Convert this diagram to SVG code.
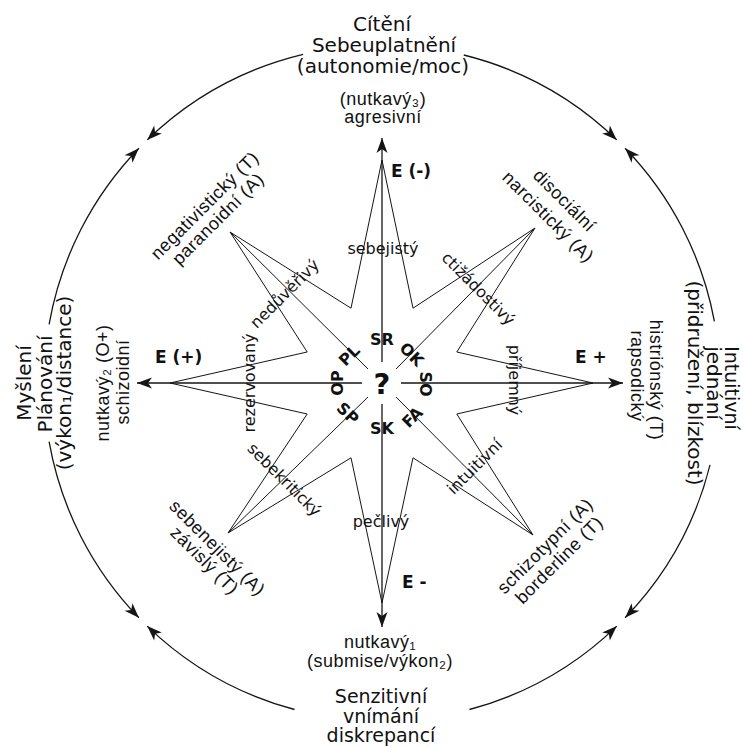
<svg xmlns="http://www.w3.org/2000/svg" width="743" height="747" viewBox="0 0 743 747">
<style>
  text { font-family: "DejaVu Sans", "Liberation Sans", sans-serif; fill: #111111; }
  .title { font-size: 20px; text-anchor: middle; }
  .lt { font-family: "Liberation Sans", "DejaVu Sans", sans-serif; font-size: 18px; letter-spacing: 0.5px; text-anchor: middle; }
  .arm { font-size: 16px; text-anchor: middle; }
  .c { font-size: 16px; font-weight: bold; text-anchor: middle; }
  .q { font-size: 29px; font-weight: bold; text-anchor: middle; }
  .e { font-size: 17px; font-weight: bold; }
  .ln { stroke: #151515; fill: none; stroke-width: 1.3; }
  .st { stroke: #151515; fill: none; stroke-width: 1; stroke-linejoin: miter; }
</style>
<defs>
  <marker id="ah" markerUnits="userSpaceOnUse" orient="auto" refX="0" refY="0" markerWidth="16" markerHeight="12" overflow="visible">
    <path d="M0,0 L-15,-5.5 L-11,0 L-15,5.5 Z" fill="#151515"/>
  </marker>
</defs>
<rect width="743" height="747" fill="#ffffff"/>

<g id="connectors">
  <g id="circle-arcs">
    <path class="ln" d="M303.1,54.3 A338,338 0 0 0 147.2,139.9" marker-end="url(#ah)"/>
    <path class="ln" d="M49.1,324.3 A338,338 0 0 1 138.9,148.2" marker-end="url(#ah)"/>
    <path class="ln" d="M49.1,441.7 A338,338 0 0 0 138.9,617.8" marker-end="url(#ah)"/>
    <path class="ln" d="M294.5,709.5 A338,338 0 0 1 147.2,626.1" marker-end="url(#ah)"/>
    <path class="ln" d="M469.5,709.5 A338,338 0 0 0 616.8,626.1" marker-end="url(#ah)"/>
    <path class="ln" d="M710.0,464.8 A338,338 0 0 1 625.1,617.8" marker-end="url(#ah)"/>
    <path class="ln" d="M714.4,321.4 A338,338 0 0 0 625.1,148.2" marker-end="url(#ah)"/>
    <path class="ln" d="M463.8,55.0 A338,338 0 0 1 616.8,139.9" marker-end="url(#ah)"/>
  </g>
  <g id="axes">
    <line class="ln" x1="382" y1="362" x2="382" y2="138" marker-end="url(#ah)"/>
    <line class="ln" x1="382" y1="404" x2="382" y2="627" marker-end="url(#ah)"/>
    <line class="ln" x1="362" y1="383" x2="137" y2="383" marker-end="url(#ah)"/>
    <line class="ln" x1="401" y1="383" x2="623" y2="383" marker-end="url(#ah)"/>
    <line class="st" x1="368" y1="369" x2="230" y2="232"/>
    <line class="st" x1="396" y1="369" x2="535" y2="228"/>
    <line class="st" x1="368" y1="397" x2="228" y2="533"/>
    <line class="st" x1="396" y1="397" x2="533" y2="535"/>
  </g>
</g>

<g id="star">
  <polygon class="st" points="593,383 456.8,414 533,535 413,457.8 382,603 351,457.8 228,533 307.2,414 170,383 307.2,352 230,232 351,308.2 382,160 413,308.2 535,228 456.8,352"/>
</g>

<g id="title-top">
  <text class="title" x="382" y="31">Cítění</text>
  <text class="title" x="384" y="52">Sebeuplatnění</text>
  <text class="title" x="383" y="73">(autonomie/moc)</text>
</g>
<g id="title-bottom">
  <text class="title" x="381" y="703" style="font-size:19px">Senzitivní</text>
  <text class="title" x="381" y="723" style="font-size:19px">vnímání</text>
  <text class="title" x="381" y="742" style="font-size:19px">diskrepancí</text>
</g>
<g id="title-left">
  <text class="title" transform="translate(31,383) rotate(-90)">Myšlení</text>
  <text class="title" transform="translate(52,384) rotate(-90)">Plánování</text>
  <text class="title" transform="translate(71,383) rotate(-90)">(výkon₁/distance)</text>
</g>
<g id="title-right">
  <text class="title" transform="translate(725,388) rotate(90)" style="font-size:19px">Intuitivní</text>
  <text class="title" transform="translate(707,383) rotate(90)">jednání</text>
  <text class="title" transform="translate(688,383) rotate(90)">(přidružení, blízkost)</text>
</g>

<g id="pole-top">
  <text class="lt" x="383" y="105">(nutkavý₃)</text>
  <text class="lt" x="383" y="123">agresivní</text>
  <text class="e" x="391" y="177">E (-)</text>
</g>
<g id="pole-bottom">
  <text class="lt" x="380" y="648">nutkavý₁</text>
  <text class="lt" x="380" y="667">(submise/výkon₂)</text>
  <text class="e" x="402" y="588">E -</text>
</g>
<g id="pole-left">
  <text class="lt" transform="translate(109,383) rotate(-90)">nutkavý₂ (O+)</text>
  <text class="lt" transform="translate(129,382) rotate(-90)">schizoidní</text>
  <text class="e" x="155" y="363">E (+)</text>
</g>
<g id="pole-right">
  <text class="lt" transform="translate(650,380) rotate(90)">histriónský (T)</text>
  <text class="lt" transform="translate(631,376) rotate(90)">rapsodický</text>
  <text class="e" x="575" y="363">E +</text>
</g>
<g id="pole-nw">
  <text class="lt" transform="translate(208.8,209.8) rotate(-45)">negativistický (T)</text>
  <text class="lt" transform="translate(222.2,223.2) rotate(-45)">paranoidní (A)</text>
</g>
<g id="pole-ne">
  <text class="lt" transform="translate(560.2,204.8) rotate(45)">disociální</text>
  <text class="lt" transform="translate(543.9,221.1) rotate(45)">narcistický (A)</text>
</g>
<g id="pole-sw">
  <text class="lt" transform="translate(213,552) rotate(45)">sebenejistý (A)</text>
  <text class="lt" transform="translate(200.3,564.7) rotate(45)">závislý (T)</text>
</g>
<g id="pole-se">
  <text class="lt" transform="translate(549.3,550.3) rotate(-45)">schizotypní (A)</text>
  <text class="lt" transform="translate(563.3,564.3) rotate(-45)">borderline (T)</text>
</g>

<g id="arm-labels">
  <text class="arm" x="383" y="254">sebejistý</text>
  <text class="arm" x="381" y="527">pečlivý</text>
  <text class="arm" transform="translate(285,294) rotate(-45)" y="5">nedůvěřivý</text>
  <text class="arm" transform="translate(478,289) rotate(45)" y="5">ctižádostivý</text>
  <text class="arm" transform="translate(514,380) rotate(90)" y="5">příjemný</text>
  <text class="arm" transform="translate(250,383) rotate(-90)" y="5">rezervovaný</text>
  <text class="arm" transform="translate(284,480) rotate(45)" y="5">sebekritický</text>
  <text class="arm" transform="translate(475,467) rotate(-45)" y="5">intuitivní</text>
</g>

<g id="center">
  <text class="q" x="382" y="394">?</text>
  <text class="c" x="382" y="345">SR</text>
  <text class="c" x="382" y="434">SK</text>
  <text class="c" transform="translate(412,354) rotate(45)" y="6">OK</text>
  <text class="c" transform="translate(426,384) rotate(90)" y="6">SO</text>
  <text class="c" transform="translate(412,417) rotate(-45)" y="6">FA</text>
  <text class="c" transform="translate(348,413) rotate(45)" y="6">SP</text>
  <text class="c" transform="translate(337,383) rotate(-90)" y="6">OP</text>
  <text class="c" transform="translate(349,355) rotate(-45)" y="6">PL</text>
</g>
</svg>
